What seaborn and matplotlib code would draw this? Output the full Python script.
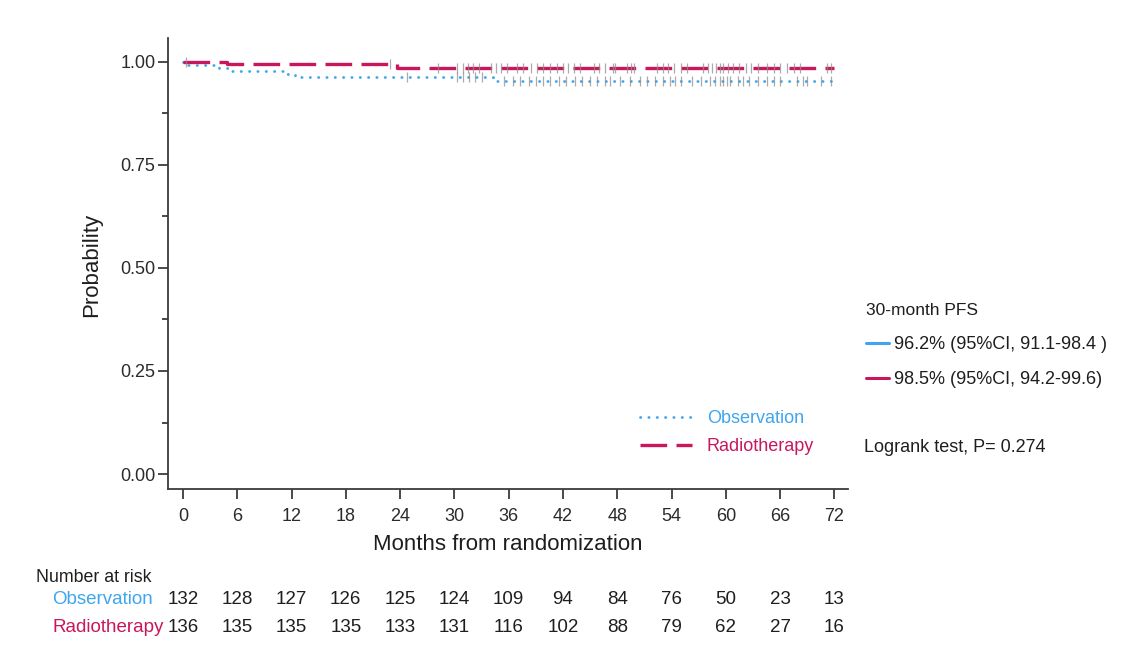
import numpy as np
import pandas as pd
import matplotlib
matplotlib.use("Agg")
import matplotlib.pyplot as plt
from matplotlib.lines import Line2D
import seaborn as sns

# ---- data -------------------------------------------------------------
groups = ["Observation", "Radiotherapy"]
colors = {"Observation": "#3fa6ee", "Radiotherapy": "#c8175d"}

# Kaplan-Meier step curves: event times (months) and survival after each event
obs_event_months = [0.4, 4.0, 5.2, 11.4, 12.4, 34.3]
obs_survival = [0.992, 0.985, 0.977, 0.970, 0.962, 0.954]
rt_event_months = [4.9, 23.7]
rt_survival = [0.993, 0.985]
follow_up_end = 72.0

# censoring times (months)
obs_censor = [24.8, 30.3, 30.9, 31.6, 32.3, 33.0, 35.5, 36.5, 37.3, 38.3, 39.0,
              39.8, 40.6, 41.6, 42.3, 43.3, 44.1, 45.0, 45.8, 46.6, 47.2, 48.3,
              49.4, 50.5, 51.3, 52.2, 53.0, 53.8, 54.4, 55.0, 56.3, 57.2, 58.3,
              58.8, 59.3, 59.7, 60.1, 60.5, 61.3, 61.9, 62.6, 63.5, 64.6, 65.3,
              66.0, 67.9, 68.5, 69.0, 70.5, 71.6]
rt_censor = [0.3, 22.9, 28.2, 30.3, 30.9, 31.5, 32.1, 32.7, 34.0, 34.6, 35.2,
             35.8, 36.9, 37.6, 38.5, 39.1, 39.8, 40.6, 41.3, 42.0, 42.6, 43.2,
             43.9, 45.4, 46.0, 46.6, 47.5, 47.8, 49.1, 49.5, 49.8, 52.4, 53.0,
             53.6, 54.3, 55.0, 55.7, 57.5, 58.0, 58.5, 58.9, 59.3, 59.7, 60.2,
             60.8, 61.5, 62.2, 62.8, 63.5, 64.6, 65.3, 66.0, 66.8, 67.5, 68.2,
             71.2, 71.6]

# number at risk table
risk_months = [0, 6, 12, 18, 24, 30, 36, 42, 48, 54, 60, 66, 72]
obs_at_risk = [132, 128, 127, 126, 125, 124, 109, 94, 84, 76, 50, 23, 13]
rt_at_risk = [136, 135, 135, 135, 133, 131, 116, 102, 88, 79, 62, 27, 16]

pfs_labels = ["96.2% (95%CI, 91.1-98.4 )", "98.5% (95%CI, 94.2-99.6)"]
logrank_text = "Logrank test, P= 0.274"

# ---- build tidy frames ----------------------------------------------------
def step_frame(events, surv, name):
    t = [0.0] + list(events) + [follow_up_end]
    s = [1.0] + list(surv) + [surv[-1]]
    return pd.DataFrame({"month": t, "prob": s, "group": name})

def censor_frame(curve, censor, name):
    t = curve["month"].to_numpy()
    s = curve["prob"].to_numpy()
    idx = np.searchsorted(t, censor, side="right") - 1
    return pd.DataFrame({"month": censor, "prob": s[idx], "group": name})

curves = {
    "Observation": step_frame(obs_event_months, obs_survival, "Observation"),
    "Radiotherapy": step_frame(rt_event_months, rt_survival, "Radiotherapy"),
}
censors = {
    "Observation": censor_frame(curves["Observation"], obs_censor, "Observation"),
    "Radiotherapy": censor_frame(curves["Radiotherapy"], rt_censor, "Radiotherapy"),
}

# ---- figure ---------------------------------------------------------------
sns.set_theme(style="ticks")
plt.rcParams["font.family"] = ["Liberation Sans", "DejaVu Sans"]

fig = plt.figure(figsize=(11.42, 6.59), dpi=100)
W, H = 1142, 659
ax = fig.add_axes([168 / W, 1 - 489 / H, (848 - 168) / W, (489 - 38) / H])

line_styles = {
    "Observation": dict(linestyle=(0, (0.1, 2.9)), linewidth=2.0,
                        dash_capstyle="round"),
    "Radiotherapy": dict(linestyle=(0, (8.0, 2.8)), linewidth=2.4,
                         dash_capstyle="butt"),
}

for g in groups:
    sns.lineplot(data=curves[g], x="month", y="prob", ax=ax, color=colors[g],
                 drawstyle="steps-post", estimator=None, sort=False,
                 **line_styles[g])
for g in groups:
    sns.scatterplot(data=censors[g], x="month", y="prob", ax=ax, marker="|",
                    s=60, linewidth=0.9, color="#8f8f8f", alpha=0.75, zorder=3)

ax.set_xlim(-1.65, 73.5)
ax.set_ylim(-0.036, 1.057)
ax.set_xticks(risk_months)
ax.set_yticks([0, 0.25, 0.5, 0.75, 1.0])
ax.set_yticks([0.125, 0.375, 0.625, 0.875], minor=True)
ax.yaxis.set_major_formatter(matplotlib.ticker.FormatStrFormatter("%.2f"))

spine_color = "#3c3c3c"
for side in ["top", "right"]:
    ax.spines[side].set_visible(False)
for side in ["left", "bottom"]:
    ax.spines[side].set_color(spine_color)
    ax.spines[side].set_linewidth(1.3)
ax.tick_params(axis="both", which="major", length=7, width=1.3,
               color=spine_color, labelsize=13, labelcolor="#2b2b2b")
ax.tick_params(axis="x", pad=7)
ax.tick_params(axis="y", pad=2)
ax.tick_params(axis="y", which="minor", length=4, width=1.3, color=spine_color)

ax.set_xlabel("Months from randomization", fontsize=16, color="#1e1e1e")
ax.set_ylabel("Probability", fontsize=16, color="#1e1e1e")
ax.xaxis.set_label_coords((508 - 168) / 680, -(534 - 489) / 451)
ax.yaxis.set_label_coords(-(168 - 102) / 680, (489 - 265) / 451)

# group legend inside the plot
handles = [Line2D([], [], color=colors[g], **line_styles[g]) for g in groups]
leg = ax.legend(handles, groups, loc="upper left",
                bbox_to_anchor=((640 - 168) / 680, (489 - 410) / 451),
                frameon=False, fontsize=13, handlelength=2.9,
                handletextpad=0.8, labelspacing=0.6, borderpad=0,
                borderaxespad=0)
for txt, g in zip(leg.get_texts(), groups):
    txt.set_color(colors[g])

# 30-month PFS legend to the right
pfs_handles = [Line2D([], [], color=colors[g], linewidth=2.2) for g in groups]
pfs = fig.legend(pfs_handles, pfs_labels, title="30-month PFS",
                 loc="upper left", bbox_to_anchor=(866 / W, 1 - 303 / H),
                 frameon=False, fontsize=13, title_fontsize=12.5,
                 handlelength=1.25, handletextpad=0.3, labelspacing=1.0,
                 borderpad=0, borderaxespad=0, alignment="left")
pfs._legend_handle_box.sep = 14
for txt in pfs.get_texts():
    txt.set_color("#1e1e1e")
pfs.get_title().set_color("#1e1e1e")

fig.text(864 / W, 1 - 447 / H, logrank_text, fontsize=13, color="#1e1e1e",
         va="center", ha="left")

# number at risk table
fig.text(36 / W, 1 - 577 / H, "Number at risk", fontsize=12.8,
         color="#1e1e1e", va="center", ha="left")
row_y = {"Observation": 600, "Radiotherapy": 627}
row_vals = {"Observation": obs_at_risk, "Radiotherapy": rt_at_risk}
blend = matplotlib.transforms.blended_transform_factory(ax.transData,
                                                        fig.transFigure)
for g in groups:
    y = 1 - row_y[g] / H
    fig.text(52 / W, y, g, fontsize=13.5, color=colors[g],
             va="center", ha="left")
    for m, n in zip(risk_months, row_vals[g]):
        ax.text(m, y, str(n), transform=blend, fontsize=13.5,
                color="#1e1e1e", va="center", ha="center", clip_on=False)

fig.savefig("out.png", dpi=100, facecolor="white")
